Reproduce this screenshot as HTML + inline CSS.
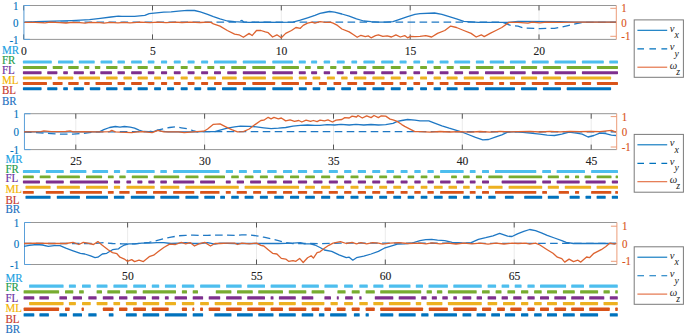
<!DOCTYPE html><html><head><meta charset="utf-8"><style>
html,body{margin:0;padding:0;background:#fff;width:685px;height:335px;overflow:hidden}
svg{display:block}
text{font-family:"Liberation Serif",serif}
</style></head><body>
<svg width="685" height="335" viewBox="0 0 685 335">

<line x1="23.6" y1="5.5" x2="23.6" y2="39.4" stroke="#e6e6e6" stroke-width="0.8"/>
<line x1="152.5" y1="5.5" x2="152.5" y2="39.4" stroke="#e6e6e6" stroke-width="0.8"/>
<line x1="281.3" y1="5.5" x2="281.3" y2="39.4" stroke="#e6e6e6" stroke-width="0.8"/>
<line x1="410.2" y1="5.5" x2="410.2" y2="39.4" stroke="#e6e6e6" stroke-width="0.8"/>
<line x1="539" y1="5.5" x2="539" y2="39.4" stroke="#e6e6e6" stroke-width="0.8"/>
<line x1="23.95" y1="5.5" x2="616.3" y2="5.5" stroke="#8a8a8a" stroke-width="0.9"/>
<line x1="23.95" y1="39.4" x2="616.3" y2="39.4" stroke="#8a8a8a" stroke-width="0.9"/>
<line x1="23.6" y1="5.5" x2="23.6" y2="10.4" stroke="#444" stroke-width="0.9"/>
<line x1="23.6" y1="39.4" x2="23.6" y2="34.4" stroke="#444" stroke-width="0.9"/>
<text transform="translate(23.9,54.5) scale(1,1.08)" font-size="11.6" text-anchor="middle" fill="#222" stroke="#222" stroke-width="0.12">0</text>
<line x1="152.5" y1="5.5" x2="152.5" y2="10.4" stroke="#444" stroke-width="0.9"/>
<line x1="152.5" y1="39.4" x2="152.5" y2="34.4" stroke="#444" stroke-width="0.9"/>
<text transform="translate(152.8,54.5) scale(1,1.08)" font-size="11.6" text-anchor="middle" fill="#222" stroke="#222" stroke-width="0.12">5</text>
<line x1="281.3" y1="5.5" x2="281.3" y2="10.4" stroke="#444" stroke-width="0.9"/>
<line x1="281.3" y1="39.4" x2="281.3" y2="34.4" stroke="#444" stroke-width="0.9"/>
<text transform="translate(281.6,54.5) scale(1,1.08)" font-size="11.6" text-anchor="middle" fill="#222" stroke="#222" stroke-width="0.12">10</text>
<line x1="410.2" y1="5.5" x2="410.2" y2="10.4" stroke="#444" stroke-width="0.9"/>
<line x1="410.2" y1="39.4" x2="410.2" y2="34.4" stroke="#444" stroke-width="0.9"/>
<text transform="translate(410.5,54.5) scale(1,1.08)" font-size="11.6" text-anchor="middle" fill="#222" stroke="#222" stroke-width="0.12">15</text>
<line x1="539" y1="5.5" x2="539" y2="10.4" stroke="#444" stroke-width="0.9"/>
<line x1="539" y1="39.4" x2="539" y2="34.4" stroke="#444" stroke-width="0.9"/>
<text transform="translate(539.3,54.5) scale(1,1.08)" font-size="11.6" text-anchor="middle" fill="#222" stroke="#222" stroke-width="0.12">20</text>
<line x1="23.95" y1="5.5" x2="23.95" y2="39.4" stroke="#5A9FD9" stroke-width="1"/>
<line x1="23.95" y1="5.5" x2="29.95" y2="5.5" stroke="#5A9FD9" stroke-width="1"/>
<text transform="translate(18.6,10) scale(1,1.12)" font-size="11" text-anchor="end" fill="#0072BD" stroke="#0072BD" stroke-width="0.12">1</text>
<line x1="23.95" y1="22.4" x2="29.95" y2="22.4" stroke="#5A9FD9" stroke-width="1"/>
<text transform="translate(18.6,26.9) scale(1,1.12)" font-size="11" text-anchor="end" fill="#0072BD" stroke="#0072BD" stroke-width="0.12">0</text>
<line x1="23.95" y1="39.4" x2="29.95" y2="39.4" stroke="#5A9FD9" stroke-width="1"/>
<text transform="translate(18.6,43.9) scale(1,1.12)" font-size="11" text-anchor="end" fill="#0072BD" stroke="#0072BD" stroke-width="0.12">-1</text>
<line x1="616.3" y1="5.5" x2="616.3" y2="39.4" stroke="#EC9C78" stroke-width="1"/>
<line x1="610.3" y1="8.3" x2="616.3" y2="8.3" stroke="#EC9C78" stroke-width="1"/>
<text transform="translate(621.3,12.4) scale(1,1.12)" font-size="11" fill="#D95319" stroke="#D95319" stroke-width="0.12">1</text>
<line x1="610.3" y1="22.4" x2="616.3" y2="22.4" stroke="#EC9C78" stroke-width="1"/>
<text transform="translate(621.3,26.5) scale(1,1.12)" font-size="11" fill="#D95319" stroke="#D95319" stroke-width="0.12">0</text>
<line x1="610.3" y1="36.3" x2="616.3" y2="36.3" stroke="#EC9C78" stroke-width="1"/>
<text transform="translate(621.3,40.4) scale(1,1.12)" font-size="11" fill="#D95319" stroke="#D95319" stroke-width="0.12">-1</text>
<polyline points="24.5,22.2 236,22.2 240,21 242,20.4 244,22.2 500.3,22.2 505,23.2 510.5,25.4 518,26.1 523.8,28 539.9,28.6 554.5,28.3 561.8,27.1 569.1,25.4 576.4,23.6 583.7,22.4 616,22.4" fill="none" stroke="#1F78C4" stroke-width="1.3" stroke-dasharray="7.6,4.4" stroke-linejoin="round"/>
<polyline points="24.5,22.3 35.8,21.6 53.7,21.1 71.6,20.6 80.6,20.2 89.6,19.7 100.3,18.4 111,17 118.4,16.2 122,16.3 134.6,16.3 144.8,15.4 149.2,13.7 156.5,12.9 163.8,12.2 171.1,11.8 178.4,11.1 187.2,10.3 194.5,10.5 200.3,11.9 207.6,14.4 213.4,16.6 220,18.8 227.3,21 234.6,21.7 241.9,22.1 249.2,22.4 263.8,22.1 278.4,22.4 293,22.1 300.3,20.2 307.6,17.8 314.9,15.4 320,13.4 324.4,12.5 329.5,11.5 334.6,12.2 341.9,14 349.2,16.2 356.5,18.8 363.8,21 371.1,21.7 378.4,22.1 385.7,22.1 393,21.7 400.3,19.2 407.6,16.6 414.9,14.4 420,13.7 434.6,13 441.9,14.4 449.2,16.6 456.5,18.8 463.8,21.3 478.4,22.4 493,22.4 507.6,22.4 518,21.4 560,21.6 575,22.1 616,22.1" fill="none" stroke="#1F78C4" stroke-width="1.3" stroke-linejoin="round"/>
<polyline points="24.5,22.4 35,22.4 45,22.9 50,22.2 60,22.6 66,23 72,22.3 80,22.6 85,23.2 90,22.4 100,22.6 104,23.2 110,22.4 118,22.8 124,22.3 130,22.8 140,22.2 150,22.6 158,22.1 166,22.6 175,22.1 182,22.5 190,22.1 200,22.5 208,22.2 211,22.4 213.4,23.9 220,26.1 227.3,30.5 234.6,34.1 239,34.8 243.4,37.3 249.2,33.4 252.1,35.6 256.5,30.5 260.9,30.5 265.3,31.9 268.2,32.7 272.6,37 276.9,34.8 281.3,37.8 285.7,33.4 291.5,30.5 295.9,27.5 300.3,28.3 303.2,25.4 307.6,23.2 312,22.1 314.9,23.2 320,21.7 325.8,22.4 330.2,22.1 333.1,23.2 337.5,25.4 341.9,29 349.2,31.9 353.6,34.8 357.2,37.3 360.9,35.3 365.3,36.7 368.2,35.9 371.1,37.8 375.5,35.6 378.4,34.8 382.8,36.3 387.2,35.9 391.5,37 395.9,34.8 400.3,37 404.7,35.6 407.6,37.8 410.5,36.3 414.9,36.7 420,36.3 425.8,35.6 431.7,37 437.5,33.4 444.8,30.5 450.7,26.1 456.5,27.5 463.8,30.5 471.1,33.4 476.2,37 481.3,34.8 484.2,36.6 490.1,33.4 495.9,30.5 501.8,27.5 509,22.4 518,22.4 528,23.1 532,22.2 540,22.8 546,22.1 560,22.4 580,22.1 616,22.2" fill="none" stroke="#DD6330" stroke-width="1.3" stroke-linejoin="round"/>
<text transform="translate(2,53.6) scale(1,1.08)" font-size="11" fill="#1BA1E2" stroke="#1BA1E2" stroke-width="0.15">MR</text>
<text transform="translate(2,64) scale(1,1.08)" font-size="11" fill="#1E9C4C" stroke="#1E9C4C" stroke-width="0.15">FR</text>
<text transform="translate(2,74.3) scale(1,1.08)" font-size="11" fill="#6B2FA0" stroke="#6B2FA0" stroke-width="0.15">FL</text>
<text transform="translate(2,84.4) scale(1,1.08)" font-size="11" fill="#F4B400" stroke="#F4B400" stroke-width="0.15">ML</text>
<text transform="translate(2,94.3) scale(1,1.08)" font-size="11" fill="#C83A2E" stroke="#C83A2E" stroke-width="0.15">BL</text>
<text transform="translate(2,104.6) scale(1,1.08)" font-size="11" fill="#1E70C0" stroke="#1E70C0" stroke-width="0.15">BR</text>
<rect x="22.9" y="60.6" width="28.9" height="3.0" rx="0.6" fill="#4DBEEE"/>
<rect x="58" y="60.6" width="15.3" height="3.0" rx="0.6" fill="#4DBEEE"/>
<rect x="78.8" y="60.6" width="15.9" height="3.0" rx="0.6" fill="#4DBEEE"/>
<rect x="100.6" y="60.6" width="11.7" height="3.0" rx="0.6" fill="#4DBEEE"/>
<rect x="117.5" y="60.6" width="7.4" height="3.0" rx="0.6" fill="#4DBEEE"/>
<rect x="131.1" y="60.6" width="10.7" height="3.0" rx="0.6" fill="#4DBEEE"/>
<rect x="147.8" y="60.6" width="6.6" height="3.0" rx="0.6" fill="#4DBEEE"/>
<rect x="161" y="60.6" width="6.1" height="3.0" rx="0.6" fill="#4DBEEE"/>
<rect x="173.8" y="60.6" width="6.9" height="3.0" rx="0.6" fill="#4DBEEE"/>
<rect x="187.6" y="60.6" width="7" height="3.0" rx="0.6" fill="#4DBEEE"/>
<rect x="201.1" y="60.6" width="7" height="3.0" rx="0.6" fill="#4DBEEE"/>
<rect x="214" y="60.6" width="22.7" height="3.0" rx="0.6" fill="#4DBEEE"/>
<rect x="242.8" y="60.6" width="23.1" height="3.0" rx="0.6" fill="#4DBEEE"/>
<rect x="272.3" y="60.6" width="20.6" height="3.0" rx="0.6" fill="#4DBEEE"/>
<rect x="298.8" y="60.6" width="7" height="3.0" rx="0.6" fill="#4DBEEE"/>
<rect x="311.1" y="60.6" width="6" height="3.0" rx="0.6" fill="#4DBEEE"/>
<rect x="323.7" y="60.6" width="6.4" height="3.0" rx="0.6" fill="#4DBEEE"/>
<rect x="336.8" y="60.6" width="7.9" height="3.0" rx="0.6" fill="#4DBEEE"/>
<rect x="351.4" y="60.6" width="5.7" height="3.0" rx="0.6" fill="#4DBEEE"/>
<rect x="363.4" y="60.6" width="11.4" height="3.0" rx="0.6" fill="#4DBEEE"/>
<rect x="381.2" y="60.6" width="12.1" height="3.0" rx="0.6" fill="#4DBEEE"/>
<rect x="399.6" y="60.6" width="7" height="3.0" rx="0.6" fill="#4DBEEE"/>
<rect x="413.4" y="60.6" width="6.7" height="3.0" rx="0.6" fill="#4DBEEE"/>
<rect x="427" y="60.6" width="6.6" height="3.0" rx="0.6" fill="#4DBEEE"/>
<rect x="439.7" y="60.6" width="8.8" height="3.0" rx="0.6" fill="#4DBEEE"/>
<rect x="454.3" y="60.6" width="15.8" height="3.0" rx="0.6" fill="#4DBEEE"/>
<rect x="475.9" y="60.6" width="8" height="3.0" rx="0.6" fill="#4DBEEE"/>
<rect x="489.8" y="60.6" width="14.3" height="3.0" rx="0.6" fill="#4DBEEE"/>
<rect x="509.9" y="60.6" width="15.8" height="3.0" rx="0.6" fill="#4DBEEE"/>
<rect x="531.8" y="60.6" width="16.9" height="3.0" rx="0.6" fill="#4DBEEE"/>
<rect x="554.6" y="60.6" width="21.4" height="3.0" rx="0.6" fill="#4DBEEE"/>
<rect x="581.9" y="60.6" width="21.9" height="3.0" rx="0.6" fill="#4DBEEE"/>
<rect x="609.3" y="60.6" width="8.7" height="3.0" rx="0.6" fill="#4DBEEE"/>
<rect x="22.9" y="65.9" width="24.1" height="3.0" rx="0.6" fill="#77AC30"/>
<rect x="52.7" y="65.9" width="9.9" height="3.0" rx="0.6" fill="#77AC30"/>
<rect x="68.2" y="65.9" width="10.5" height="3.0" rx="0.6" fill="#77AC30"/>
<rect x="84.2" y="65.9" width="5.1" height="3.0" rx="0.6" fill="#77AC30"/>
<rect x="94.9" y="65.9" width="5.4" height="3.0" rx="0.6" fill="#77AC30"/>
<rect x="106.1" y="65.9" width="11.4" height="3.0" rx="0.6" fill="#77AC30"/>
<rect x="123.5" y="65.9" width="8.3" height="3.0" rx="0.6" fill="#77AC30"/>
<rect x="137.6" y="65.9" width="10.2" height="3.0" rx="0.6" fill="#77AC30"/>
<rect x="154.1" y="65.9" width="6.9" height="3.0" rx="0.6" fill="#77AC30"/>
<rect x="167.1" y="65.9" width="7" height="3.0" rx="0.6" fill="#77AC30"/>
<rect x="180.7" y="65.9" width="7" height="3.0" rx="0.6" fill="#77AC30"/>
<rect x="194.3" y="65.9" width="6.9" height="3.0" rx="0.6" fill="#77AC30"/>
<rect x="207.3" y="65.9" width="7" height="3.0" rx="0.6" fill="#77AC30"/>
<rect x="219.9" y="65.9" width="5" height="3.0" rx="0.6" fill="#77AC30"/>
<rect x="231.2" y="65.9" width="14.9" height="3.0" rx="0.6" fill="#77AC30"/>
<rect x="252.3" y="65.9" width="22.9" height="3.0" rx="0.6" fill="#77AC30"/>
<rect x="281.5" y="65.9" width="17.5" height="3.0" rx="0.6" fill="#77AC30"/>
<rect x="305" y="65.9" width="5.8" height="3.0" rx="0.6" fill="#77AC30"/>
<rect x="317.1" y="65.9" width="6.6" height="3.0" rx="0.6" fill="#77AC30"/>
<rect x="330.1" y="65.9" width="6.3" height="3.0" rx="0.6" fill="#77AC30"/>
<rect x="342.7" y="65.9" width="8.3" height="3.0" rx="0.6" fill="#77AC30"/>
<rect x="357.1" y="65.9" width="9.2" height="3.0" rx="0.6" fill="#77AC30"/>
<rect x="372.4" y="65.9" width="12.1" height="3.0" rx="0.6" fill="#77AC30"/>
<rect x="390.8" y="65.9" width="9.9" height="3.0" rx="0.6" fill="#77AC30"/>
<rect x="407" y="65.9" width="6.4" height="3.0" rx="0.6" fill="#77AC30"/>
<rect x="420.1" y="65.9" width="6.9" height="3.0" rx="0.6" fill="#77AC30"/>
<rect x="433.6" y="65.9" width="7.3" height="3.0" rx="0.6" fill="#77AC30"/>
<rect x="446.7" y="65.9" width="7" height="3.0" rx="0.6" fill="#77AC30"/>
<rect x="459.9" y="65.9" width="10.2" height="3.0" rx="0.6" fill="#77AC30"/>
<rect x="475.9" y="65.9" width="17.5" height="3.0" rx="0.6" fill="#77AC30"/>
<rect x="499.1" y="65.9" width="15.9" height="3.0" rx="0.6" fill="#77AC30"/>
<rect x="521" y="65.9" width="16.1" height="3.0" rx="0.6" fill="#77AC30"/>
<rect x="542.9" y="65.9" width="18.1" height="3.0" rx="0.6" fill="#77AC30"/>
<rect x="566.7" y="65.9" width="24.4" height="3.0" rx="0.6" fill="#77AC30"/>
<rect x="596.9" y="65.9" width="21.1" height="3.0" rx="0.6" fill="#77AC30"/>
<rect x="22.9" y="71.2" width="18.7" height="3.0" rx="0.6" fill="#7E2F8E"/>
<rect x="47.2" y="71.2" width="10.2" height="3.0" rx="0.6" fill="#7E2F8E"/>
<rect x="63.2" y="71.2" width="4.7" height="3.0" rx="0.6" fill="#7E2F8E"/>
<rect x="73.7" y="71.2" width="10.2" height="3.0" rx="0.6" fill="#7E2F8E"/>
<rect x="89.8" y="71.2" width="5.3" height="3.0" rx="0.6" fill="#7E2F8E"/>
<rect x="100.3" y="71.2" width="11.7" height="3.0" rx="0.6" fill="#7E2F8E"/>
<rect x="117.5" y="71.2" width="7.4" height="3.0" rx="0.6" fill="#7E2F8E"/>
<rect x="131.1" y="71.2" width="10.7" height="3.0" rx="0.6" fill="#7E2F8E"/>
<rect x="147.8" y="71.2" width="6.6" height="3.0" rx="0.6" fill="#7E2F8E"/>
<rect x="161" y="71.2" width="6.1" height="3.0" rx="0.6" fill="#7E2F8E"/>
<rect x="173.8" y="71.2" width="6.9" height="3.0" rx="0.6" fill="#7E2F8E"/>
<rect x="187.6" y="71.2" width="7" height="3.0" rx="0.6" fill="#7E2F8E"/>
<rect x="201.1" y="71.2" width="7" height="3.0" rx="0.6" fill="#7E2F8E"/>
<rect x="214" y="71.2" width="7" height="3.0" rx="0.6" fill="#7E2F8E"/>
<rect x="227.2" y="71.2" width="9.5" height="3.0" rx="0.6" fill="#7E2F8E"/>
<rect x="242.8" y="71.2" width="23.1" height="3.0" rx="0.6" fill="#7E2F8E"/>
<rect x="272.3" y="71.2" width="20.6" height="3.0" rx="0.6" fill="#7E2F8E"/>
<rect x="298.8" y="71.2" width="7" height="3.0" rx="0.6" fill="#7E2F8E"/>
<rect x="311.1" y="71.2" width="6" height="3.0" rx="0.6" fill="#7E2F8E"/>
<rect x="323.7" y="71.2" width="6.4" height="3.0" rx="0.6" fill="#7E2F8E"/>
<rect x="336.8" y="71.2" width="6.9" height="3.0" rx="0.6" fill="#7E2F8E"/>
<rect x="350" y="71.2" width="7.2" height="3.0" rx="0.6" fill="#7E2F8E"/>
<rect x="363.4" y="71.2" width="11.4" height="3.0" rx="0.6" fill="#7E2F8E"/>
<rect x="381.2" y="71.2" width="12.1" height="3.0" rx="0.6" fill="#7E2F8E"/>
<rect x="399.6" y="71.2" width="7" height="3.0" rx="0.6" fill="#7E2F8E"/>
<rect x="413.4" y="71.2" width="6.7" height="3.0" rx="0.6" fill="#7E2F8E"/>
<rect x="427" y="71.2" width="6.6" height="3.0" rx="0.6" fill="#7E2F8E"/>
<rect x="439.7" y="71.2" width="8.8" height="3.0" rx="0.6" fill="#7E2F8E"/>
<rect x="454.3" y="71.2" width="8.8" height="3.0" rx="0.6" fill="#7E2F8E"/>
<rect x="468.9" y="71.2" width="9.9" height="3.0" rx="0.6" fill="#7E2F8E"/>
<rect x="485" y="71.2" width="19.1" height="3.0" rx="0.6" fill="#7E2F8E"/>
<rect x="509.9" y="71.2" width="15.8" height="3.0" rx="0.6" fill="#7E2F8E"/>
<rect x="531.8" y="71.2" width="16.9" height="3.0" rx="0.6" fill="#7E2F8E"/>
<rect x="554.6" y="71.2" width="21.4" height="3.0" rx="0.6" fill="#7E2F8E"/>
<rect x="581.9" y="71.2" width="36.1" height="3.0" rx="0.6" fill="#7E2F8E"/>
<rect x="22.9" y="76.6" width="28.9" height="3.0" rx="0.6" fill="#EDB120"/>
<rect x="57.7" y="76.6" width="15.6" height="3.0" rx="0.6" fill="#EDB120"/>
<rect x="78.8" y="76.6" width="21.2" height="3.0" rx="0.6" fill="#EDB120"/>
<rect x="106.1" y="76.6" width="11.5" height="3.0" rx="0.6" fill="#EDB120"/>
<rect x="123.5" y="76.6" width="8.3" height="3.0" rx="0.6" fill="#EDB120"/>
<rect x="137.6" y="76.6" width="10.2" height="3.0" rx="0.6" fill="#EDB120"/>
<rect x="154.1" y="76.6" width="6.9" height="3.0" rx="0.6" fill="#EDB120"/>
<rect x="167.1" y="76.6" width="7" height="3.0" rx="0.6" fill="#EDB120"/>
<rect x="180.7" y="76.6" width="7" height="3.0" rx="0.6" fill="#EDB120"/>
<rect x="194.3" y="76.6" width="6.9" height="3.0" rx="0.6" fill="#EDB120"/>
<rect x="207.3" y="76.6" width="8.6" height="3.0" rx="0.6" fill="#EDB120"/>
<rect x="222" y="76.6" width="14.7" height="3.0" rx="0.6" fill="#EDB120"/>
<rect x="242.8" y="76.6" width="23.1" height="3.0" rx="0.6" fill="#EDB120"/>
<rect x="272.3" y="76.6" width="20.6" height="3.0" rx="0.6" fill="#EDB120"/>
<rect x="298.8" y="76.6" width="8" height="3.0" rx="0.6" fill="#EDB120"/>
<rect x="312.6" y="76.6" width="7.7" height="3.0" rx="0.6" fill="#EDB120"/>
<rect x="326.9" y="76.6" width="8" height="3.0" rx="0.6" fill="#EDB120"/>
<rect x="341.2" y="76.6" width="6.4" height="3.0" rx="0.6" fill="#EDB120"/>
<rect x="353.9" y="76.6" width="12.4" height="3.0" rx="0.6" fill="#EDB120"/>
<rect x="372.4" y="76.6" width="12.1" height="3.0" rx="0.6" fill="#EDB120"/>
<rect x="390.8" y="76.6" width="9.9" height="3.0" rx="0.6" fill="#EDB120"/>
<rect x="407" y="76.6" width="6.4" height="3.0" rx="0.6" fill="#EDB120"/>
<rect x="420.1" y="76.6" width="6.9" height="3.0" rx="0.6" fill="#EDB120"/>
<rect x="433.6" y="76.6" width="7.3" height="3.0" rx="0.6" fill="#EDB120"/>
<rect x="446.7" y="76.6" width="10.9" height="3.0" rx="0.6" fill="#EDB120"/>
<rect x="463.8" y="76.6" width="20.1" height="3.0" rx="0.6" fill="#EDB120"/>
<rect x="489.8" y="76.6" width="25.2" height="3.0" rx="0.6" fill="#EDB120"/>
<rect x="521" y="76.6" width="16.1" height="3.0" rx="0.6" fill="#EDB120"/>
<rect x="542.9" y="76.6" width="18.1" height="3.0" rx="0.6" fill="#EDB120"/>
<rect x="566.7" y="76.6" width="44.4" height="3.0" rx="0.6" fill="#EDB120"/>
<rect x="22.9" y="81.9" width="24.1" height="3.0" rx="0.6" fill="#D95319"/>
<rect x="52.7" y="81.9" width="9.9" height="3.0" rx="0.6" fill="#D95319"/>
<rect x="68.2" y="81.9" width="10.5" height="3.0" rx="0.6" fill="#D95319"/>
<rect x="84.2" y="81.9" width="5.5" height="3.0" rx="0.6" fill="#D95319"/>
<rect x="95.5" y="81.9" width="16.5" height="3.0" rx="0.6" fill="#D95319"/>
<rect x="117.5" y="81.9" width="7.4" height="3.0" rx="0.6" fill="#D95319"/>
<rect x="131.1" y="81.9" width="10.7" height="3.0" rx="0.6" fill="#D95319"/>
<rect x="147.8" y="81.9" width="6.6" height="3.0" rx="0.6" fill="#D95319"/>
<rect x="161" y="81.9" width="6.1" height="3.0" rx="0.6" fill="#D95319"/>
<rect x="173.8" y="81.9" width="6.9" height="3.0" rx="0.6" fill="#D95319"/>
<rect x="187.6" y="81.9" width="7" height="3.0" rx="0.6" fill="#D95319"/>
<rect x="201.1" y="81.9" width="7" height="3.0" rx="0.6" fill="#D95319"/>
<rect x="214" y="81.9" width="7.7" height="3.0" rx="0.6" fill="#D95319"/>
<rect x="227.5" y="81.9" width="18.5" height="3.0" rx="0.6" fill="#D95319"/>
<rect x="252.3" y="81.9" width="22.9" height="3.0" rx="0.6" fill="#D95319"/>
<rect x="281.5" y="81.9" width="17.5" height="3.0" rx="0.6" fill="#D95319"/>
<rect x="305" y="81.9" width="7.3" height="3.0" rx="0.6" fill="#D95319"/>
<rect x="318.9" y="81.9" width="8" height="3.0" rx="0.6" fill="#D95319"/>
<rect x="333.5" y="81.9" width="7.7" height="3.0" rx="0.6" fill="#D95319"/>
<rect x="347.3" y="81.9" width="9.8" height="3.0" rx="0.6" fill="#D95319"/>
<rect x="363.4" y="81.9" width="11.4" height="3.0" rx="0.6" fill="#D95319"/>
<rect x="381.2" y="81.9" width="12.1" height="3.0" rx="0.6" fill="#D95319"/>
<rect x="399.6" y="81.9" width="7" height="3.0" rx="0.6" fill="#D95319"/>
<rect x="413.4" y="81.9" width="6.7" height="3.0" rx="0.6" fill="#D95319"/>
<rect x="427" y="81.9" width="6.6" height="3.0" rx="0.6" fill="#D95319"/>
<rect x="439.7" y="81.9" width="8.8" height="3.0" rx="0.6" fill="#D95319"/>
<rect x="454.3" y="81.9" width="15.8" height="3.0" rx="0.6" fill="#D95319"/>
<rect x="475.9" y="81.9" width="17.5" height="3.0" rx="0.6" fill="#D95319"/>
<rect x="499.1" y="81.9" width="5" height="3.0" rx="0.6" fill="#D95319"/>
<rect x="509.9" y="81.9" width="15.8" height="3.0" rx="0.6" fill="#D95319"/>
<rect x="531.8" y="81.9" width="16.9" height="3.0" rx="0.6" fill="#D95319"/>
<rect x="554.6" y="81.9" width="21.4" height="3.0" rx="0.6" fill="#D95319"/>
<rect x="581.9" y="81.9" width="9.2" height="3.0" rx="0.6" fill="#D95319"/>
<rect x="596.9" y="81.9" width="21.1" height="3.0" rx="0.6" fill="#D95319"/>
<rect x="22.9" y="87.2" width="18.7" height="3.0" rx="0.6" fill="#0072BD"/>
<rect x="47.2" y="87.2" width="10.2" height="3.0" rx="0.6" fill="#0072BD"/>
<rect x="63.2" y="87.2" width="4.7" height="3.0" rx="0.6" fill="#0072BD"/>
<rect x="73.7" y="87.2" width="10.2" height="3.0" rx="0.6" fill="#0072BD"/>
<rect x="89.8" y="87.2" width="10.5" height="3.0" rx="0.6" fill="#0072BD"/>
<rect x="106.1" y="87.2" width="11.4" height="3.0" rx="0.6" fill="#0072BD"/>
<rect x="123.5" y="87.2" width="8.3" height="3.0" rx="0.6" fill="#0072BD"/>
<rect x="137.6" y="87.2" width="10.2" height="3.0" rx="0.6" fill="#0072BD"/>
<rect x="154.1" y="87.2" width="6.9" height="3.0" rx="0.6" fill="#0072BD"/>
<rect x="167.1" y="87.2" width="7" height="3.0" rx="0.6" fill="#0072BD"/>
<rect x="180.7" y="87.2" width="7" height="3.0" rx="0.6" fill="#0072BD"/>
<rect x="194.3" y="87.2" width="6.9" height="3.0" rx="0.6" fill="#0072BD"/>
<rect x="207.3" y="87.2" width="8.6" height="3.0" rx="0.6" fill="#0072BD"/>
<rect x="222" y="87.2" width="14.7" height="3.0" rx="0.6" fill="#0072BD"/>
<rect x="242.8" y="87.2" width="23.1" height="3.0" rx="0.6" fill="#0072BD"/>
<rect x="272.3" y="87.2" width="20.6" height="3.0" rx="0.6" fill="#0072BD"/>
<rect x="298.8" y="87.2" width="8" height="3.0" rx="0.6" fill="#0072BD"/>
<rect x="312.6" y="87.2" width="7.7" height="3.0" rx="0.6" fill="#0072BD"/>
<rect x="326.9" y="87.2" width="8" height="3.0" rx="0.6" fill="#0072BD"/>
<rect x="341.2" y="87.2" width="9.8" height="3.0" rx="0.6" fill="#0072BD"/>
<rect x="357.1" y="87.2" width="9.2" height="3.0" rx="0.6" fill="#0072BD"/>
<rect x="372.4" y="87.2" width="12.1" height="3.0" rx="0.6" fill="#0072BD"/>
<rect x="390.8" y="87.2" width="9.9" height="3.0" rx="0.6" fill="#0072BD"/>
<rect x="407" y="87.2" width="6.4" height="3.0" rx="0.6" fill="#0072BD"/>
<rect x="420.1" y="87.2" width="6.9" height="3.0" rx="0.6" fill="#0072BD"/>
<rect x="433.6" y="87.2" width="7.3" height="3.0" rx="0.6" fill="#0072BD"/>
<rect x="446.7" y="87.2" width="10.9" height="3.0" rx="0.6" fill="#0072BD"/>
<rect x="463.8" y="87.2" width="15" height="3.0" rx="0.6" fill="#0072BD"/>
<rect x="485" y="87.2" width="30" height="3.0" rx="0.6" fill="#0072BD"/>
<rect x="521" y="87.2" width="16.1" height="3.0" rx="0.6" fill="#0072BD"/>
<rect x="542.9" y="87.2" width="18.1" height="3.0" rx="0.6" fill="#0072BD"/>
<rect x="566.7" y="87.2" width="44.4" height="3.0" rx="0.6" fill="#0072BD"/>
<rect x="634.2" y="19.9" width="49.2" height="57.4" fill="#fff" stroke="#7a7a7a" stroke-width="1"/>
<line x1="637.4000000000001" y1="30.3" x2="667.2" y2="30.3" stroke="#0072BD" stroke-width="1.1"/>
<line x1="637.4000000000001" y1="48.9" x2="667.2" y2="48.9" stroke="#0072BD" stroke-width="1.1" stroke-dasharray="6.6,5.4"/>
<line x1="637.4000000000001" y1="67.2" x2="667.2" y2="67.2" stroke="#E2683A" stroke-width="1.1"/>
<text x="669.7" y="31.8" font-size="10.6" font-style="italic" fill="#222">v</text>
<text x="674.5" y="38" font-size="9.8" font-style="italic" fill="#222">x</text>
<text x="669.7" y="50.4" font-size="10.6" font-style="italic" fill="#222">v</text>
<text x="674.5" y="56.6" font-size="9.8" font-style="italic" fill="#222">y</text>
<text x="669.7" y="68.7" font-size="10.6" font-style="italic" fill="#222">&#969;</text>
<text x="676.2" y="74.9" font-size="9.8" font-style="italic" fill="#222">z</text>
<line x1="75.8" y1="113.7" x2="75.8" y2="149.6" stroke="#e6e6e6" stroke-width="0.8"/>
<line x1="204.6" y1="113.7" x2="204.6" y2="149.6" stroke="#e6e6e6" stroke-width="0.8"/>
<line x1="333.5" y1="113.7" x2="333.5" y2="149.6" stroke="#e6e6e6" stroke-width="0.8"/>
<line x1="462.3" y1="113.7" x2="462.3" y2="149.6" stroke="#e6e6e6" stroke-width="0.8"/>
<line x1="591.2" y1="113.7" x2="591.2" y2="149.6" stroke="#e6e6e6" stroke-width="0.8"/>
<line x1="24.45" y1="113.7" x2="616.7" y2="113.7" stroke="#8a8a8a" stroke-width="0.9"/>
<line x1="24.45" y1="149.6" x2="616.7" y2="149.6" stroke="#8a8a8a" stroke-width="0.9"/>
<line x1="75.8" y1="113.7" x2="75.8" y2="118.7" stroke="#444" stroke-width="0.9"/>
<line x1="75.8" y1="149.6" x2="75.8" y2="144.6" stroke="#444" stroke-width="0.9"/>
<text transform="translate(76.1,164.5) scale(1,1.08)" font-size="11.6" text-anchor="middle" fill="#222" stroke="#222" stroke-width="0.12">25</text>
<line x1="204.6" y1="113.7" x2="204.6" y2="118.7" stroke="#444" stroke-width="0.9"/>
<line x1="204.6" y1="149.6" x2="204.6" y2="144.6" stroke="#444" stroke-width="0.9"/>
<text transform="translate(204.9,164.5) scale(1,1.08)" font-size="11.6" text-anchor="middle" fill="#222" stroke="#222" stroke-width="0.12">30</text>
<line x1="333.5" y1="113.7" x2="333.5" y2="118.7" stroke="#444" stroke-width="0.9"/>
<line x1="333.5" y1="149.6" x2="333.5" y2="144.6" stroke="#444" stroke-width="0.9"/>
<text transform="translate(333.8,164.5) scale(1,1.08)" font-size="11.6" text-anchor="middle" fill="#222" stroke="#222" stroke-width="0.12">35</text>
<line x1="462.3" y1="113.7" x2="462.3" y2="118.7" stroke="#444" stroke-width="0.9"/>
<line x1="462.3" y1="149.6" x2="462.3" y2="144.6" stroke="#444" stroke-width="0.9"/>
<text transform="translate(462.6,164.5) scale(1,1.08)" font-size="11.6" text-anchor="middle" fill="#222" stroke="#222" stroke-width="0.12">40</text>
<line x1="591.2" y1="113.7" x2="591.2" y2="118.7" stroke="#444" stroke-width="0.9"/>
<line x1="591.2" y1="149.6" x2="591.2" y2="144.6" stroke="#444" stroke-width="0.9"/>
<text transform="translate(591.5,164.5) scale(1,1.08)" font-size="11.6" text-anchor="middle" fill="#222" stroke="#222" stroke-width="0.12">45</text>
<line x1="24.45" y1="113.7" x2="24.45" y2="149.6" stroke="#5A9FD9" stroke-width="1"/>
<line x1="24.45" y1="113.7" x2="30.45" y2="113.7" stroke="#5A9FD9" stroke-width="1"/>
<text transform="translate(19.1,117.8) scale(1,1.12)" font-size="11" text-anchor="end" fill="#0072BD" stroke="#0072BD" stroke-width="0.12">1</text>
<line x1="24.45" y1="131.7" x2="30.45" y2="131.7" stroke="#5A9FD9" stroke-width="1"/>
<text transform="translate(19.1,135.8) scale(1,1.12)" font-size="11" text-anchor="end" fill="#0072BD" stroke="#0072BD" stroke-width="0.12">0</text>
<line x1="24.45" y1="149.6" x2="30.45" y2="149.6" stroke="#5A9FD9" stroke-width="1"/>
<text transform="translate(19.1,153.7) scale(1,1.12)" font-size="11" text-anchor="end" fill="#0072BD" stroke="#0072BD" stroke-width="0.12">-1</text>
<line x1="616.7" y1="113.7" x2="616.7" y2="149.6" stroke="#EC9C78" stroke-width="1"/>
<line x1="610.7" y1="116.6" x2="616.7" y2="116.6" stroke="#EC9C78" stroke-width="1"/>
<text transform="translate(621.7,120.7) scale(1,1.12)" font-size="11" fill="#D95319" stroke="#D95319" stroke-width="0.12">1</text>
<line x1="610.7" y1="131.7" x2="616.7" y2="131.7" stroke="#EC9C78" stroke-width="1"/>
<text transform="translate(621.7,135.8) scale(1,1.12)" font-size="11" fill="#D95319" stroke="#D95319" stroke-width="0.12">0</text>
<line x1="610.7" y1="147" x2="616.7" y2="147" stroke="#EC9C78" stroke-width="1"/>
<text transform="translate(621.7,151.1) scale(1,1.12)" font-size="11" fill="#D95319" stroke="#D95319" stroke-width="0.12">-1</text>
<polyline points="24,131.9 36.6,132.6 43.9,133.1 51.2,133.6 60,134.1 73.1,134.1 83.3,133.4 89.2,132.6 95,131.9 149.2,131.6 156.5,130.4 163.8,128.7 169.6,127.5 175.5,126.8 181.3,127.8 187.2,128.7 193,130.7 197.4,131.9 204.7,131.6 616,131.8" fill="none" stroke="#1F78C4" stroke-width="1.3" stroke-dasharray="7.6,4.4" stroke-linejoin="round"/>
<polyline points="24,131.9 99.4,131.9 103.8,129.7 109.6,127.5 115.4,126.5 120,127.2 124.4,126.5 130.2,127.2 134.6,128.2 139,130.1 143.4,131.5 149.2,131.6 153.6,131.6 158,130.1 160.9,131.2 168.2,131.9 178.4,131.9 193,131.9 204.7,131.6 214.9,131.6 220,130.1 227.3,128.2 234.6,126.8 240.4,126.1 249.2,126.4 256.5,126.8 263.8,127.8 271.1,128.7 278.4,128.2 285.7,127.5 293,126.1 300.3,125.3 307.6,125 314.9,125.3 320,125.3 327,124.6 334.6,125 341,124.4 349.2,125 356,124.4 363.8,125 371,124.5 378.4,125 385.7,124.6 393,123.4 397.4,121.4 401.8,120.5 407.6,119.5 414.9,120.2 420,120.9 428.8,120.9 434.6,123.1 441.9,125.8 449.2,128.2 456.5,130.4 462.3,132.2 468.2,134.5 475.5,137.4 482.8,139.9 488.6,139.5 494.5,137.4 501.8,134.8 507.6,132.2 513.4,131.9 518,131.9 525.3,132.6 532.6,133.4 539.9,134.1 547.2,135.1 554.5,135.5 561.8,134.1 569.1,132.2 576.4,133.1 582.2,134.1 588.1,137 593.9,135.5 599.8,133.1 605.6,133.6 611.4,135.1 616,135.5" fill="none" stroke="#1F78C4" stroke-width="1.3" stroke-linejoin="round"/>
<polyline points="24,131.9 41,131.6 43.9,130.9 51.2,131.6 65.8,131.5 70.2,130.9 73.1,131.9 83.3,131.6 95,131.9 102.3,131.9 109.6,131.6 111.8,130.4 115.4,131.9 120,132.2 131.7,132.6 137.5,131.9 143.4,131.6 152.1,132.6 158,130.4 163.8,131.9 178.4,131.9 184.2,132.6 193,131.9 203.9,131.2 207.6,129 213.4,124.3 220,123.9 225.8,126.8 231.7,129.7 237.5,131.9 243.4,131.6 249.2,129 255,124.6 260.9,120.5 263.8,120.2 268.2,117.3 271.1,118.8 274,117.3 278.4,118.8 281.3,118 285.7,120.9 290.1,119.9 294.5,121.4 298.8,120.5 301.8,122 306.1,120.2 310.5,121.4 313.4,120.5 317.1,121.7 320,120.2 324.4,120.9 328,119.9 332.4,122 336.1,120.2 341.9,119.5 344.8,117.6 349.2,118 352.1,116.1 356.5,117 358,115.5 362.3,118 366.7,115.8 371.1,117.6 374,115.5 378.4,117.6 381.3,115.8 385.7,116.1 390.1,119.1 393,119.9 395.9,120.9 398.8,122.4 401.8,124.6 404.7,126.4 410.5,129.3 414.9,131.6 420,131.6 430,132.1 440,131.5 450,132 460,131.6 470,132.1 480,131.5 490,132.1 500,131.4 510,131.9 518,131.6 530,131.4 540,132 550,131.4 560,131.9 570,131.3 580,131.7 590,131.3 600,131.6 611.4,130.4 616,132.2" fill="none" stroke="#DD6330" stroke-width="1.3" stroke-linejoin="round"/>
<text transform="translate(5.4,162.8) scale(1,1.08)" font-size="11" fill="#1BA1E2" stroke="#1BA1E2" stroke-width="0.15">MR</text>
<text transform="translate(5.4,172.6) scale(1,1.08)" font-size="11" fill="#1E9C4C" stroke="#1E9C4C" stroke-width="0.15">FR</text>
<text transform="translate(5.4,182.2) scale(1,1.08)" font-size="11" fill="#6B2FA0" stroke="#6B2FA0" stroke-width="0.15">FL</text>
<text transform="translate(5.4,192.5) scale(1,1.08)" font-size="11" fill="#F4B400" stroke="#F4B400" stroke-width="0.15">ML</text>
<text transform="translate(5.4,203.8) scale(1,1.08)" font-size="11" fill="#C83A2E" stroke="#C83A2E" stroke-width="0.15">BL</text>
<text transform="translate(5.4,213.4) scale(1,1.08)" font-size="11" fill="#1E70C0" stroke="#1E70C0" stroke-width="0.15">BR</text>
<rect x="22.9" y="170.1" width="17.1" height="2.95" rx="0.6" fill="#4DBEEE"/>
<rect x="45.8" y="170.1" width="18" height="2.95" rx="0.6" fill="#4DBEEE"/>
<rect x="69.9" y="170.1" width="16.5" height="2.95" rx="0.6" fill="#4DBEEE"/>
<rect x="92.3" y="170.1" width="15.8" height="2.95" rx="0.6" fill="#4DBEEE"/>
<rect x="113.9" y="170.1" width="6.2" height="2.95" rx="0.6" fill="#4DBEEE"/>
<rect x="126.4" y="170.1" width="28.3" height="2.95" rx="0.6" fill="#4DBEEE"/>
<rect x="160.3" y="170.1" width="6.6" height="2.95" rx="0.6" fill="#4DBEEE"/>
<rect x="173.1" y="170.1" width="46.4" height="2.95" rx="0.6" fill="#4DBEEE"/>
<rect x="225.8" y="170.1" width="7.2" height="2.95" rx="0.6" fill="#4DBEEE"/>
<rect x="238.9" y="170.1" width="8" height="2.95" rx="0.6" fill="#4DBEEE"/>
<rect x="253.1" y="170.1" width="8" height="2.95" rx="0.6" fill="#4DBEEE"/>
<rect x="267.2" y="170.1" width="9.5" height="2.95" rx="0.6" fill="#4DBEEE"/>
<rect x="283" y="170.1" width="9.1" height="2.95" rx="0.6" fill="#4DBEEE"/>
<rect x="297.9" y="170.1" width="9.2" height="2.95" rx="0.6" fill="#4DBEEE"/>
<rect x="313.3" y="170.1" width="9.2" height="2.95" rx="0.6" fill="#4DBEEE"/>
<rect x="328.8" y="170.1" width="9.1" height="2.95" rx="0.6" fill="#4DBEEE"/>
<rect x="344.1" y="170.1" width="7.3" height="2.95" rx="0.6" fill="#4DBEEE"/>
<rect x="357.8" y="170.1" width="8.2" height="2.95" rx="0.6" fill="#4DBEEE"/>
<rect x="372.2" y="170.1" width="8" height="2.95" rx="0.6" fill="#4DBEEE"/>
<rect x="386.5" y="170.1" width="7.6" height="2.95" rx="0.6" fill="#4DBEEE"/>
<rect x="400.6" y="170.1" width="7" height="2.95" rx="0.6" fill="#4DBEEE"/>
<rect x="414.3" y="170.1" width="6.4" height="2.95" rx="0.6" fill="#4DBEEE"/>
<rect x="427.4" y="170.1" width="6.4" height="2.95" rx="0.6" fill="#4DBEEE"/>
<rect x="440.1" y="170.1" width="23.6" height="2.95" rx="0.6" fill="#4DBEEE"/>
<rect x="469.8" y="170.1" width="5.8" height="2.95" rx="0.6" fill="#4DBEEE"/>
<rect x="482" y="170.1" width="7" height="2.95" rx="0.6" fill="#4DBEEE"/>
<rect x="495" y="170.1" width="41.3" height="2.95" rx="0.6" fill="#4DBEEE"/>
<rect x="542.2" y="170.1" width="8.8" height="2.95" rx="0.6" fill="#4DBEEE"/>
<rect x="556.6" y="170.1" width="28.4" height="2.95" rx="0.6" fill="#4DBEEE"/>
<rect x="591.1" y="170.1" width="26.9" height="2.95" rx="0.6" fill="#4DBEEE"/>
<rect x="22.9" y="175.4" width="10.9" height="2.95" rx="0.6" fill="#77AC30"/>
<rect x="39.7" y="175.4" width="10.9" height="2.95" rx="0.6" fill="#77AC30"/>
<rect x="56.8" y="175.4" width="23.1" height="2.95" rx="0.6" fill="#77AC30"/>
<rect x="86" y="175.4" width="16.1" height="2.95" rx="0.6" fill="#77AC30"/>
<rect x="107.9" y="175.4" width="5.8" height="2.95" rx="0.6" fill="#77AC30"/>
<rect x="119.3" y="175.4" width="6.4" height="2.95" rx="0.6" fill="#77AC30"/>
<rect x="131.8" y="175.4" width="16.1" height="2.95" rx="0.6" fill="#77AC30"/>
<rect x="153.7" y="175.4" width="25.5" height="2.95" rx="0.6" fill="#77AC30"/>
<rect x="185.4" y="175.4" width="13.1" height="2.95" rx="0.6" fill="#77AC30"/>
<rect x="204.3" y="175.4" width="20.7" height="2.95" rx="0.6" fill="#77AC30"/>
<rect x="231.2" y="175.4" width="7.6" height="2.95" rx="0.6" fill="#77AC30"/>
<rect x="244.6" y="175.4" width="8.9" height="2.95" rx="0.6" fill="#77AC30"/>
<rect x="259.9" y="175.4" width="8" height="2.95" rx="0.6" fill="#77AC30"/>
<rect x="274.2" y="175.4" width="9.5" height="2.95" rx="0.6" fill="#77AC30"/>
<rect x="290" y="175.4" width="9.1" height="2.95" rx="0.6" fill="#77AC30"/>
<rect x="305.2" y="175.4" width="9.7" height="2.95" rx="0.6" fill="#77AC30"/>
<rect x="321.1" y="175.4" width="9.1" height="2.95" rx="0.6" fill="#77AC30"/>
<rect x="336.4" y="175.4" width="7.7" height="2.95" rx="0.6" fill="#77AC30"/>
<rect x="350.5" y="175.4" width="8" height="2.95" rx="0.6" fill="#77AC30"/>
<rect x="364.9" y="175.4" width="8" height="2.95" rx="0.6" fill="#77AC30"/>
<rect x="379.2" y="175.4" width="7.9" height="2.95" rx="0.6" fill="#77AC30"/>
<rect x="393.3" y="175.4" width="7.8" height="2.95" rx="0.6" fill="#77AC30"/>
<rect x="407.6" y="175.4" width="6.6" height="2.95" rx="0.6" fill="#77AC30"/>
<rect x="420.7" y="175.4" width="6.7" height="2.95" rx="0.6" fill="#77AC30"/>
<rect x="433.9" y="175.4" width="6" height="2.95" rx="0.6" fill="#77AC30"/>
<rect x="451.1" y="175.4" width="5.8" height="2.95" rx="0.6" fill="#77AC30"/>
<rect x="463.1" y="175.4" width="6.6" height="2.95" rx="0.6" fill="#77AC30"/>
<rect x="475.9" y="175.4" width="6.1" height="2.95" rx="0.6" fill="#77AC30"/>
<rect x="488.3" y="175.4" width="14.3" height="2.95" rx="0.6" fill="#77AC30"/>
<rect x="508.6" y="175.4" width="33.6" height="2.95" rx="0.6" fill="#77AC30"/>
<rect x="547.8" y="175.4" width="11.1" height="2.95" rx="0.6" fill="#77AC30"/>
<rect x="564.8" y="175.4" width="4.4" height="2.95" rx="0.6" fill="#77AC30"/>
<rect x="575" y="175.4" width="4.1" height="2.95" rx="0.6" fill="#77AC30"/>
<rect x="584.5" y="175.4" width="6.6" height="2.95" rx="0.6" fill="#77AC30"/>
<rect x="596.6" y="175.4" width="14.9" height="2.95" rx="0.6" fill="#77AC30"/>
<rect x="615.6" y="175.4" width="2.4" height="2.95" rx="0.6" fill="#77AC30"/>
<rect x="22.9" y="180.5" width="17.1" height="2.95" rx="0.6" fill="#7E2F8E"/>
<rect x="45.8" y="180.5" width="18" height="2.95" rx="0.6" fill="#7E2F8E"/>
<rect x="69.9" y="180.5" width="38.1" height="2.95" rx="0.6" fill="#7E2F8E"/>
<rect x="113.9" y="180.5" width="6.2" height="2.95" rx="0.6" fill="#7E2F8E"/>
<rect x="126.4" y="180.5" width="4.7" height="2.95" rx="0.6" fill="#7E2F8E"/>
<rect x="137.3" y="180.5" width="5.1" height="2.95" rx="0.6" fill="#7E2F8E"/>
<rect x="148.3" y="180.5" width="6.4" height="2.95" rx="0.6" fill="#7E2F8E"/>
<rect x="160.3" y="180.5" width="6.6" height="2.95" rx="0.6" fill="#7E2F8E"/>
<rect x="173.1" y="180.5" width="21.2" height="2.95" rx="0.6" fill="#7E2F8E"/>
<rect x="200.1" y="180.5" width="14.9" height="2.95" rx="0.6" fill="#7E2F8E"/>
<rect x="225.8" y="180.5" width="5" height="2.95" rx="0.6" fill="#7E2F8E"/>
<rect x="236.7" y="180.5" width="7.3" height="2.95" rx="0.6" fill="#7E2F8E"/>
<rect x="250.1" y="180.5" width="10.9" height="2.95" rx="0.6" fill="#7E2F8E"/>
<rect x="267.2" y="180.5" width="9.5" height="2.95" rx="0.6" fill="#7E2F8E"/>
<rect x="283" y="180.5" width="9.1" height="2.95" rx="0.6" fill="#7E2F8E"/>
<rect x="297.9" y="180.5" width="9.2" height="2.95" rx="0.6" fill="#7E2F8E"/>
<rect x="313.3" y="180.5" width="9.2" height="2.95" rx="0.6" fill="#7E2F8E"/>
<rect x="328.8" y="180.5" width="9.1" height="2.95" rx="0.6" fill="#7E2F8E"/>
<rect x="344.1" y="180.5" width="7.3" height="2.95" rx="0.6" fill="#7E2F8E"/>
<rect x="357.8" y="180.5" width="8.2" height="2.95" rx="0.6" fill="#7E2F8E"/>
<rect x="372.2" y="180.5" width="8" height="2.95" rx="0.6" fill="#7E2F8E"/>
<rect x="386.5" y="180.5" width="7.6" height="2.95" rx="0.6" fill="#7E2F8E"/>
<rect x="400.6" y="180.5" width="7" height="2.95" rx="0.6" fill="#7E2F8E"/>
<rect x="414.3" y="180.5" width="6.4" height="2.95" rx="0.6" fill="#7E2F8E"/>
<rect x="427.4" y="180.5" width="6.4" height="2.95" rx="0.6" fill="#7E2F8E"/>
<rect x="440.1" y="180.5" width="10.5" height="2.95" rx="0.6" fill="#7E2F8E"/>
<rect x="456.2" y="180.5" width="7.6" height="2.95" rx="0.6" fill="#7E2F8E"/>
<rect x="469.8" y="180.5" width="5.8" height="2.95" rx="0.6" fill="#7E2F8E"/>
<rect x="482" y="180.5" width="7" height="2.95" rx="0.6" fill="#7E2F8E"/>
<rect x="501.6" y="180.5" width="34.7" height="2.95" rx="0.6" fill="#7E2F8E"/>
<rect x="542.2" y="180.5" width="8.8" height="2.95" rx="0.6" fill="#7E2F8E"/>
<rect x="556.6" y="180.5" width="23.1" height="2.95" rx="0.6" fill="#7E2F8E"/>
<rect x="585.5" y="180.5" width="20.2" height="2.95" rx="0.6" fill="#7E2F8E"/>
<rect x="611.8" y="180.5" width="6.2" height="2.95" rx="0.6" fill="#7E2F8E"/>
<rect x="25.5" y="185.8" width="25.1" height="2.95" rx="0.6" fill="#EDB120"/>
<rect x="56.8" y="185.8" width="23.1" height="2.95" rx="0.6" fill="#EDB120"/>
<rect x="86" y="185.8" width="22" height="2.95" rx="0.6" fill="#EDB120"/>
<rect x="113.9" y="185.8" width="6.2" height="2.95" rx="0.6" fill="#EDB120"/>
<rect x="126.4" y="185.8" width="28.3" height="2.95" rx="0.6" fill="#EDB120"/>
<rect x="160.3" y="185.8" width="19" height="2.95" rx="0.6" fill="#EDB120"/>
<rect x="185.4" y="185.8" width="53.4" height="2.95" rx="0.6" fill="#EDB120"/>
<rect x="244.6" y="185.8" width="54.5" height="2.95" rx="0.6" fill="#EDB120"/>
<rect x="305.2" y="185.8" width="9.7" height="2.95" rx="0.6" fill="#EDB120"/>
<rect x="321.1" y="185.8" width="9.1" height="2.95" rx="0.6" fill="#EDB120"/>
<rect x="336.4" y="185.8" width="7.7" height="2.95" rx="0.6" fill="#EDB120"/>
<rect x="350.5" y="185.8" width="8" height="2.95" rx="0.6" fill="#EDB120"/>
<rect x="364.9" y="185.8" width="8" height="2.95" rx="0.6" fill="#EDB120"/>
<rect x="379.2" y="185.8" width="7.9" height="2.95" rx="0.6" fill="#EDB120"/>
<rect x="393.3" y="185.8" width="7.8" height="2.95" rx="0.6" fill="#EDB120"/>
<rect x="407.6" y="185.8" width="6.6" height="2.95" rx="0.6" fill="#EDB120"/>
<rect x="420.7" y="185.8" width="6.7" height="2.95" rx="0.6" fill="#EDB120"/>
<rect x="433.9" y="185.8" width="8.8" height="2.95" rx="0.6" fill="#EDB120"/>
<rect x="448.5" y="185.8" width="8.5" height="2.95" rx="0.6" fill="#EDB120"/>
<rect x="463.1" y="185.8" width="6.6" height="2.95" rx="0.6" fill="#EDB120"/>
<rect x="475.9" y="185.8" width="6.1" height="2.95" rx="0.6" fill="#EDB120"/>
<rect x="488.3" y="185.8" width="14.3" height="2.95" rx="0.6" fill="#EDB120"/>
<rect x="508.6" y="185.8" width="33.6" height="2.95" rx="0.6" fill="#EDB120"/>
<rect x="547.8" y="185.8" width="11.1" height="2.95" rx="0.6" fill="#EDB120"/>
<rect x="564.8" y="185.8" width="26.3" height="2.95" rx="0.6" fill="#EDB120"/>
<rect x="596.6" y="185.8" width="21.4" height="2.95" rx="0.6" fill="#EDB120"/>
<rect x="22.9" y="190.9" width="10.9" height="2.95" rx="0.6" fill="#D95319"/>
<rect x="45.8" y="190.9" width="18" height="2.95" rx="0.6" fill="#D95319"/>
<rect x="69.9" y="190.9" width="32.1" height="2.95" rx="0.6" fill="#D95319"/>
<rect x="107.9" y="190.9" width="5.8" height="2.95" rx="0.6" fill="#D95319"/>
<rect x="119.3" y="190.9" width="10.3" height="2.95" rx="0.6" fill="#D95319"/>
<rect x="135.9" y="190.9" width="11.2" height="2.95" rx="0.6" fill="#D95319"/>
<rect x="153" y="190.9" width="13.9" height="2.95" rx="0.6" fill="#D95319"/>
<rect x="173.1" y="190.9" width="21.2" height="2.95" rx="0.6" fill="#D95319"/>
<rect x="200.1" y="190.9" width="19.4" height="2.95" rx="0.6" fill="#D95319"/>
<rect x="225.8" y="190.9" width="5" height="2.95" rx="0.6" fill="#D95319"/>
<rect x="236.7" y="190.9" width="10.2" height="2.95" rx="0.6" fill="#D95319"/>
<rect x="253.1" y="190.9" width="8" height="2.95" rx="0.6" fill="#D95319"/>
<rect x="267.2" y="190.9" width="9.5" height="2.95" rx="0.6" fill="#D95319"/>
<rect x="283" y="190.9" width="9.1" height="2.95" rx="0.6" fill="#D95319"/>
<rect x="297.9" y="190.9" width="9.2" height="2.95" rx="0.6" fill="#D95319"/>
<rect x="313.3" y="190.9" width="9.2" height="2.95" rx="0.6" fill="#D95319"/>
<rect x="328.8" y="190.9" width="9.1" height="2.95" rx="0.6" fill="#D95319"/>
<rect x="344.1" y="190.9" width="7.3" height="2.95" rx="0.6" fill="#D95319"/>
<rect x="357.8" y="190.9" width="8.2" height="2.95" rx="0.6" fill="#D95319"/>
<rect x="372.2" y="190.9" width="8" height="2.95" rx="0.6" fill="#D95319"/>
<rect x="386.5" y="190.9" width="7.6" height="2.95" rx="0.6" fill="#D95319"/>
<rect x="400.6" y="190.9" width="7" height="2.95" rx="0.6" fill="#D95319"/>
<rect x="414.3" y="190.9" width="6.4" height="2.95" rx="0.6" fill="#D95319"/>
<rect x="427.4" y="190.9" width="6.4" height="2.95" rx="0.6" fill="#D95319"/>
<rect x="440.1" y="190.9" width="23.6" height="2.95" rx="0.6" fill="#D95319"/>
<rect x="469.8" y="190.9" width="5.8" height="2.95" rx="0.6" fill="#D95319"/>
<rect x="482" y="190.9" width="7" height="2.95" rx="0.6" fill="#D95319"/>
<rect x="495" y="190.9" width="41.3" height="2.95" rx="0.6" fill="#D95319"/>
<rect x="542.2" y="190.9" width="4.8" height="2.95" rx="0.6" fill="#D95319"/>
<rect x="558.7" y="190.9" width="10.3" height="2.95" rx="0.6" fill="#D95319"/>
<rect x="575" y="190.9" width="4.1" height="2.95" rx="0.6" fill="#D95319"/>
<rect x="591.1" y="190.9" width="20.2" height="2.95" rx="0.6" fill="#D95319"/>
<rect x="615.2" y="190.9" width="2.8" height="2.95" rx="0.6" fill="#D95319"/>
<rect x="25.5" y="195.8" width="25.1" height="2.95" rx="0.6" fill="#0072BD"/>
<rect x="56.8" y="195.8" width="23.1" height="2.95" rx="0.6" fill="#0072BD"/>
<rect x="86" y="195.8" width="22" height="2.95" rx="0.6" fill="#0072BD"/>
<rect x="113.9" y="195.8" width="10.6" height="2.95" rx="0.6" fill="#0072BD"/>
<rect x="130.8" y="195.8" width="23.9" height="2.95" rx="0.6" fill="#0072BD"/>
<rect x="160.3" y="195.8" width="19" height="2.95" rx="0.6" fill="#0072BD"/>
<rect x="185.4" y="195.8" width="13.1" height="2.95" rx="0.6" fill="#0072BD"/>
<rect x="204.3" y="195.8" width="10.7" height="2.95" rx="0.6" fill="#0072BD"/>
<rect x="220.2" y="195.8" width="4.8" height="2.95" rx="0.6" fill="#0072BD"/>
<rect x="231.2" y="195.8" width="7.6" height="2.95" rx="0.6" fill="#0072BD"/>
<rect x="244.6" y="195.8" width="8.9" height="2.95" rx="0.6" fill="#0072BD"/>
<rect x="259.9" y="195.8" width="8" height="2.95" rx="0.6" fill="#0072BD"/>
<rect x="274.2" y="195.8" width="9.5" height="2.95" rx="0.6" fill="#0072BD"/>
<rect x="290" y="195.8" width="9.1" height="2.95" rx="0.6" fill="#0072BD"/>
<rect x="305.2" y="195.8" width="9.7" height="2.95" rx="0.6" fill="#0072BD"/>
<rect x="321.1" y="195.8" width="9.1" height="2.95" rx="0.6" fill="#0072BD"/>
<rect x="336.4" y="195.8" width="7.7" height="2.95" rx="0.6" fill="#0072BD"/>
<rect x="350.5" y="195.8" width="8" height="2.95" rx="0.6" fill="#0072BD"/>
<rect x="364.9" y="195.8" width="8" height="2.95" rx="0.6" fill="#0072BD"/>
<rect x="379.2" y="195.8" width="7.9" height="2.95" rx="0.6" fill="#0072BD"/>
<rect x="393.3" y="195.8" width="7.8" height="2.95" rx="0.6" fill="#0072BD"/>
<rect x="407.6" y="195.8" width="6.6" height="2.95" rx="0.6" fill="#0072BD"/>
<rect x="420.7" y="195.8" width="6.7" height="2.95" rx="0.6" fill="#0072BD"/>
<rect x="433.9" y="195.8" width="8.8" height="2.95" rx="0.6" fill="#0072BD"/>
<rect x="448.5" y="195.8" width="8.5" height="2.95" rx="0.6" fill="#0072BD"/>
<rect x="463.1" y="195.8" width="6.6" height="2.95" rx="0.6" fill="#0072BD"/>
<rect x="475.9" y="195.8" width="6.1" height="2.95" rx="0.6" fill="#0072BD"/>
<rect x="488.3" y="195.8" width="7.4" height="2.95" rx="0.6" fill="#0072BD"/>
<rect x="504.9" y="195.8" width="8.8" height="2.95" rx="0.6" fill="#0072BD"/>
<rect x="524.2" y="195.8" width="18" height="2.95" rx="0.6" fill="#0072BD"/>
<rect x="547.8" y="195.8" width="11.1" height="2.95" rx="0.6" fill="#0072BD"/>
<rect x="569.6" y="195.8" width="10.1" height="2.95" rx="0.6" fill="#0072BD"/>
<rect x="585.5" y="195.8" width="5.6" height="2.95" rx="0.6" fill="#0072BD"/>
<rect x="596.6" y="195.8" width="9.1" height="2.95" rx="0.6" fill="#0072BD"/>
<rect x="611.8" y="195.8" width="6.2" height="2.95" rx="0.6" fill="#0072BD"/>
<rect x="634.2" y="134.4" width="49.2" height="57.8" fill="#fff" stroke="#7a7a7a" stroke-width="1"/>
<line x1="637.4000000000001" y1="144.8" x2="667.2" y2="144.8" stroke="#0072BD" stroke-width="1.1"/>
<line x1="637.4000000000001" y1="163.4" x2="667.2" y2="163.4" stroke="#0072BD" stroke-width="1.1" stroke-dasharray="6.6,5.4"/>
<line x1="637.4000000000001" y1="181.7" x2="667.2" y2="181.7" stroke="#E2683A" stroke-width="1.1"/>
<text x="669.7" y="146.3" font-size="10.6" font-style="italic" fill="#222">v</text>
<text x="674.5" y="152.5" font-size="9.8" font-style="italic" fill="#222">x</text>
<text x="669.7" y="164.9" font-size="10.6" font-style="italic" fill="#222">v</text>
<text x="674.5" y="171.1" font-size="9.8" font-style="italic" fill="#222">y</text>
<text x="669.7" y="183.2" font-size="10.6" font-style="italic" fill="#222">&#969;</text>
<text x="676.2" y="189.4" font-size="9.8" font-style="italic" fill="#222">z</text>
<line x1="127.6" y1="222.5" x2="127.6" y2="264.5" stroke="#e6e6e6" stroke-width="0.8"/>
<line x1="256.5" y1="222.5" x2="256.5" y2="264.5" stroke="#e6e6e6" stroke-width="0.8"/>
<line x1="385.3" y1="222.5" x2="385.3" y2="264.5" stroke="#e6e6e6" stroke-width="0.8"/>
<line x1="514.2" y1="222.5" x2="514.2" y2="264.5" stroke="#e6e6e6" stroke-width="0.8"/>
<line x1="24.5" y1="222.5" x2="616.9" y2="222.5" stroke="#8a8a8a" stroke-width="0.9"/>
<line x1="24.5" y1="264.5" x2="616.9" y2="264.5" stroke="#8a8a8a" stroke-width="0.9"/>
<line x1="127.6" y1="222.5" x2="127.6" y2="227.5" stroke="#444" stroke-width="0.9"/>
<line x1="127.6" y1="264.5" x2="127.6" y2="259.5" stroke="#444" stroke-width="0.9"/>
<text transform="translate(127.9,280.1) scale(1,1.16)" font-size="11.6" text-anchor="middle" fill="#222" stroke="#222" stroke-width="0.12">50</text>
<line x1="256.5" y1="222.5" x2="256.5" y2="227.5" stroke="#444" stroke-width="0.9"/>
<line x1="256.5" y1="264.5" x2="256.5" y2="259.5" stroke="#444" stroke-width="0.9"/>
<text transform="translate(256.8,280.1) scale(1,1.16)" font-size="11.6" text-anchor="middle" fill="#222" stroke="#222" stroke-width="0.12">55</text>
<line x1="385.3" y1="222.5" x2="385.3" y2="227.5" stroke="#444" stroke-width="0.9"/>
<line x1="385.3" y1="264.5" x2="385.3" y2="259.5" stroke="#444" stroke-width="0.9"/>
<text transform="translate(385.6,280.1) scale(1,1.16)" font-size="11.6" text-anchor="middle" fill="#222" stroke="#222" stroke-width="0.12">60</text>
<line x1="514.2" y1="222.5" x2="514.2" y2="227.5" stroke="#444" stroke-width="0.9"/>
<line x1="514.2" y1="264.5" x2="514.2" y2="259.5" stroke="#444" stroke-width="0.9"/>
<text transform="translate(514.5,280.1) scale(1,1.16)" font-size="11.6" text-anchor="middle" fill="#222" stroke="#222" stroke-width="0.12">65</text>
<line x1="24.5" y1="222.5" x2="24.5" y2="264.5" stroke="#5A9FD9" stroke-width="1"/>
<line x1="24.5" y1="222.5" x2="30.5" y2="222.5" stroke="#5A9FD9" stroke-width="1"/>
<text transform="translate(19.2,226.6) scale(1,1.12)" font-size="11" text-anchor="end" fill="#0072BD" stroke="#0072BD" stroke-width="0.12">1</text>
<line x1="24.5" y1="243.5" x2="30.5" y2="243.5" stroke="#5A9FD9" stroke-width="1"/>
<text transform="translate(19.2,247.6) scale(1,1.12)" font-size="11" text-anchor="end" fill="#0072BD" stroke="#0072BD" stroke-width="0.12">0</text>
<line x1="24.5" y1="264.5" x2="30.5" y2="264.5" stroke="#5A9FD9" stroke-width="1"/>
<text transform="translate(19.2,268.6) scale(1,1.12)" font-size="11" text-anchor="end" fill="#0072BD" stroke="#0072BD" stroke-width="0.12">-1</text>
<line x1="616.9" y1="222.5" x2="616.9" y2="264.5" stroke="#EC9C78" stroke-width="1"/>
<line x1="610.9" y1="226.2" x2="616.9" y2="226.2" stroke="#EC9C78" stroke-width="1"/>
<text transform="translate(621.9,230.3) scale(1,1.12)" font-size="11" fill="#D95319" stroke="#D95319" stroke-width="0.12">1</text>
<line x1="610.9" y1="243.5" x2="616.9" y2="243.5" stroke="#EC9C78" stroke-width="1"/>
<text transform="translate(621.9,247.6) scale(1,1.12)" font-size="11" fill="#D95319" stroke="#D95319" stroke-width="0.12">0</text>
<line x1="610.9" y1="261.3" x2="616.9" y2="261.3" stroke="#EC9C78" stroke-width="1"/>
<text transform="translate(621.9,265.4) scale(1,1.12)" font-size="11" fill="#D95319" stroke="#D95319" stroke-width="0.12">-1</text>
<polyline points="24,243.5 95,243.5 103.8,242.6 112.5,243.5 122,243.8 134.6,243.8 149.2,242.4 156.5,240.6 163.8,238.7 171.1,237.2 178.4,235.8 185.7,235.4 193,235.1 200.3,235.4 207.6,235.4 214.9,235.1 227.3,235.1 234.6,235.4 241.9,234.8 249.2,234.8 256.5,235.8 263.8,237.2 271.1,238.7 278.4,240.6 285.7,242.6 293,243.5 307.6,243.5 320,243.6 340,243.1 380,243.2 616,243.4" fill="none" stroke="#1F78C4" stroke-width="1.3" stroke-dasharray="7.6,4.4" stroke-linejoin="round"/>
<polyline points="24,246.3 29.3,245.3 36.6,244.5 42.4,245 48.3,246.3 54.1,245.6 60,245.6 65.8,248.2 73.1,250.8 80.4,253.3 84.8,254 90.6,255.8 95,257.7 97.9,257.2 102.3,254 106.7,253.3 112.5,249.7 118.4,248.9 120,247.5 124.4,245 128.8,243.8 134.6,243.8 141.9,243.1 149.2,243.1 156.5,242.6 163.8,242.6 171.1,243.5 178.4,243.1 185.7,242.6 193,243.5 200.3,243.5 207.6,242.6 214.9,244.1 220,243.1 234.6,243.5 249.2,243.5 263.8,243.5 278.4,243.5 293,243.1 300.3,242.6 304.7,243.8 310.5,243.8 314.9,245 320,247.5 324.4,250 331.7,251.4 339,254.8 346.3,257.7 349.2,257.2 352.8,260.2 356.5,257.7 363.8,256.2 371.1,254 378.4,251.4 384.2,248.2 390.1,246.4 397.4,244.1 404.7,243.8 412,243.1 420,240.6 425.8,239.7 431.7,239.4 437.5,240.2 444.8,240.6 452.1,242.4 458,242.6 463.8,243.1 471.1,242.6 478.4,239.4 485.7,237.7 493,235.8 499.6,233.3 507.6,236.2 512,236.5 516.4,234.3 518,233.6 523.8,231.4 529.7,229.5 535.5,230.7 541.4,232.9 547.2,235.4 554.5,238 561.8,240.6 566.2,242.4 573.5,243.5 583.7,243.5 598.3,243.5 616,243.5" fill="none" stroke="#1F78C4" stroke-width="1.3" stroke-linejoin="round"/>
<polyline points="24,243.5 36.6,243.1 51.2,243.5 65.8,243.5 73.1,242.4 78.9,244.5 83.3,242.4 87.7,243.1 93.5,244.5 97.9,241.6 102.3,245.3 108.1,249.7 112.5,252.6 116.9,253.7 120,257.2 124.4,259.1 127.3,261.3 131.7,259.6 134.6,261.6 139,260.2 143.4,261.6 149.2,256.7 153.6,255.2 158,251.8 163.8,247.5 169.6,244.1 175.5,244.5 181.3,242.4 185.7,243.8 190.1,242.6 194.5,246 198.8,243.8 204.7,242.4 210.5,246 214.9,243.5 220,243.5 227.3,243.1 234.6,243.1 237.5,244.5 241.9,243.1 249.2,243.8 256.5,243.1 260.9,245.3 263.8,246 268.2,249.7 272.6,253.3 276.9,254 281.3,258.4 285.7,259.1 288.6,261.3 293,260.6 295.9,261.3 299.6,258.4 303.2,262.5 307.6,257.7 311.2,255.8 313.4,258.1 317.1,252.6 320,251.8 324.4,248.2 328.8,245.3 333.1,243.1 340.4,241.6 346.3,243.5 352.1,242.4 356.5,243.8 360.9,242.6 366.7,243.8 372.6,242.6 378.4,243.1 382.8,244.1 390.1,243.1 398.8,242.6 407.6,243.5 420,243.1 426,243.9 432,242.9 440,243.8 448,243.2 456,244 464,243.2 472,243.9 480,243.2 488,244.1 496,243.1 504,244 512,243.2 518,243.5 525.3,243.1 529.7,244.1 535.5,243.1 539.9,245 547.2,249.7 553,253.3 557.4,257.2 561.8,258.7 564.7,262.1 569.1,259.1 573.5,261.6 577.9,260.2 580.8,262.1 586.6,257 589.5,257.7 593.9,253.3 601.2,249.7 605.6,246.7 610,243.1 614.3,244.1 616,243.5" fill="none" stroke="#DD6330" stroke-width="1.3" stroke-linejoin="round"/>
<text transform="translate(5.4,281.6) scale(1,1.08)" font-size="11" fill="#1BA1E2" stroke="#1BA1E2" stroke-width="0.15">MR</text>
<text transform="translate(5.4,291.4) scale(1,1.08)" font-size="11" fill="#1E9C4C" stroke="#1E9C4C" stroke-width="0.15">FR</text>
<text transform="translate(5.4,301.8) scale(1,1.08)" font-size="11" fill="#6B2FA0" stroke="#6B2FA0" stroke-width="0.15">FL</text>
<text transform="translate(5.4,311.6) scale(1,1.08)" font-size="11" fill="#F4B400" stroke="#F4B400" stroke-width="0.15">ML</text>
<text transform="translate(5.4,322.6) scale(1,1.08)" font-size="11" fill="#C83A2E" stroke="#C83A2E" stroke-width="0.15">BL</text>
<text transform="translate(5.4,333.4) scale(1,1.08)" font-size="11" fill="#1E70C0" stroke="#1E70C0" stroke-width="0.15">BR</text>
<rect x="29.1" y="284.5" width="34.5" height="3.3" rx="0.6" fill="#4DBEEE"/>
<rect x="68.9" y="284.5" width="7" height="3.3" rx="0.6" fill="#4DBEEE"/>
<rect x="82" y="284.5" width="8.8" height="3.3" rx="0.6" fill="#4DBEEE"/>
<rect x="96.6" y="284.5" width="10.9" height="3.3" rx="0.6" fill="#4DBEEE"/>
<rect x="113.4" y="284.5" width="14" height="3.3" rx="0.6" fill="#4DBEEE"/>
<rect x="133.2" y="284.5" width="12.8" height="3.3" rx="0.6" fill="#4DBEEE"/>
<rect x="151.8" y="284.5" width="7.4" height="3.3" rx="0.6" fill="#4DBEEE"/>
<rect x="164.9" y="284.5" width="11.1" height="3.3" rx="0.6" fill="#4DBEEE"/>
<rect x="181.9" y="284.5" width="12.4" height="3.3" rx="0.6" fill="#4DBEEE"/>
<rect x="200.1" y="284.5" width="20.1" height="3.3" rx="0.6" fill="#4DBEEE"/>
<rect x="226.1" y="284.5" width="15.6" height="3.3" rx="0.6" fill="#4DBEEE"/>
<rect x="247.2" y="284.5" width="17.8" height="3.3" rx="0.6" fill="#4DBEEE"/>
<rect x="270.6" y="284.5" width="25.3" height="3.3" rx="0.6" fill="#4DBEEE"/>
<rect x="301.7" y="284.5" width="17.2" height="3.3" rx="0.6" fill="#4DBEEE"/>
<rect x="324.4" y="284.5" width="13.4" height="3.3" rx="0.6" fill="#4DBEEE"/>
<rect x="344.1" y="284.5" width="8.8" height="3.3" rx="0.6" fill="#4DBEEE"/>
<rect x="359.3" y="284.5" width="8.5" height="3.3" rx="0.6" fill="#4DBEEE"/>
<rect x="373.3" y="284.5" width="10.1" height="3.3" rx="0.6" fill="#4DBEEE"/>
<rect x="388.9" y="284.5" width="21.6" height="3.3" rx="0.6" fill="#4DBEEE"/>
<rect x="415.8" y="284.5" width="7.2" height="3.3" rx="0.6" fill="#4DBEEE"/>
<rect x="428.5" y="284.5" width="19.4" height="3.3" rx="0.6" fill="#4DBEEE"/>
<rect x="453.3" y="284.5" width="28.5" height="3.3" rx="0.6" fill="#4DBEEE"/>
<rect x="487.6" y="284.5" width="8.5" height="3.3" rx="0.6" fill="#4DBEEE"/>
<rect x="501.6" y="284.5" width="7.6" height="3.3" rx="0.6" fill="#4DBEEE"/>
<rect x="514.7" y="284.5" width="6.9" height="3.3" rx="0.6" fill="#4DBEEE"/>
<rect x="527.4" y="284.5" width="7.3" height="3.3" rx="0.6" fill="#4DBEEE"/>
<rect x="540" y="284.5" width="26.1" height="3.3" rx="0.6" fill="#4DBEEE"/>
<rect x="571.2" y="284.5" width="12.8" height="3.3" rx="0.6" fill="#4DBEEE"/>
<rect x="589.2" y="284.5" width="28.6" height="3.3" rx="0.6" fill="#4DBEEE"/>
<rect x="23.6" y="290.2" width="35.5" height="3.3" rx="0.6" fill="#77AC30"/>
<rect x="65" y="290.2" width="8.3" height="3.3" rx="0.6" fill="#77AC30"/>
<rect x="79.1" y="290.2" width="4.7" height="3.3" rx="0.6" fill="#77AC30"/>
<rect x="96.6" y="290.2" width="5.4" height="3.3" rx="0.6" fill="#77AC30"/>
<rect x="107.3" y="290.2" width="12.8" height="3.3" rx="0.6" fill="#77AC30"/>
<rect x="125.9" y="290.2" width="10.9" height="3.3" rx="0.6" fill="#77AC30"/>
<rect x="142.7" y="290.2" width="33.3" height="3.3" rx="0.6" fill="#77AC30"/>
<rect x="181.9" y="290.2" width="5.1" height="3.3" rx="0.6" fill="#77AC30"/>
<rect x="192.7" y="290.2" width="5.3" height="3.3" rx="0.6" fill="#77AC30"/>
<rect x="215.8" y="290.2" width="15.6" height="3.3" rx="0.6" fill="#77AC30"/>
<rect x="237" y="290.2" width="15.8" height="3.3" rx="0.6" fill="#77AC30"/>
<rect x="258.2" y="290.2" width="24.8" height="3.3" rx="0.6" fill="#77AC30"/>
<rect x="288.8" y="290.2" width="17.5" height="3.3" rx="0.6" fill="#77AC30"/>
<rect x="311.6" y="290.2" width="12.8" height="3.3" rx="0.6" fill="#77AC30"/>
<rect x="337.4" y="290.2" width="8.2" height="3.3" rx="0.6" fill="#77AC30"/>
<rect x="351.7" y="290.2" width="8" height="3.3" rx="0.6" fill="#77AC30"/>
<rect x="365.6" y="290.2" width="9.2" height="3.3" rx="0.6" fill="#77AC30"/>
<rect x="380.2" y="290.2" width="41" height="3.3" rx="0.6" fill="#77AC30"/>
<rect x="426.6" y="290.2" width="5.3" height="3.3" rx="0.6" fill="#77AC30"/>
<rect x="436.9" y="290.2" width="5.4" height="3.3" rx="0.6" fill="#77AC30"/>
<rect x="447.9" y="290.2" width="28.8" height="3.3" rx="0.6" fill="#77AC30"/>
<rect x="482" y="290.2" width="7.7" height="3.3" rx="0.6" fill="#77AC30"/>
<rect x="495.6" y="290.2" width="5.9" height="3.3" rx="0.6" fill="#77AC30"/>
<rect x="507.4" y="290.2" width="7.7" height="3.3" rx="0.6" fill="#77AC30"/>
<rect x="521" y="290.2" width="7.3" height="3.3" rx="0.6" fill="#77AC30"/>
<rect x="534.1" y="290.2" width="7.6" height="3.3" rx="0.6" fill="#77AC30"/>
<rect x="547" y="290.2" width="10" height="3.3" rx="0.6" fill="#77AC30"/>
<rect x="562.9" y="290.2" width="11.9" height="3.3" rx="0.6" fill="#77AC30"/>
<rect x="580.1" y="290.2" width="18" height="3.3" rx="0.6" fill="#77AC30"/>
<rect x="603.5" y="290.2" width="6.3" height="3.3" rx="0.6" fill="#77AC30"/>
<rect x="615.2" y="290.2" width="2.6" height="3.3" rx="0.6" fill="#77AC30"/>
<rect x="23.6" y="296.2" width="10.7" height="3.3" rx="0.6" fill="#7E2F8E"/>
<rect x="39.4" y="296.2" width="9.5" height="3.3" rx="0.6" fill="#7E2F8E"/>
<rect x="59.4" y="296.2" width="7.6" height="3.3" rx="0.6" fill="#7E2F8E"/>
<rect x="72.8" y="296.2" width="9.2" height="3.3" rx="0.6" fill="#7E2F8E"/>
<rect x="88.3" y="296.2" width="8.3" height="3.3" rx="0.6" fill="#7E2F8E"/>
<rect x="102.8" y="296.2" width="10.7" height="3.3" rx="0.6" fill="#7E2F8E"/>
<rect x="119" y="296.2" width="8.4" height="3.3" rx="0.6" fill="#7E2F8E"/>
<rect x="133.2" y="296.2" width="12.8" height="3.3" rx="0.6" fill="#7E2F8E"/>
<rect x="151.8" y="296.2" width="7.4" height="3.3" rx="0.6" fill="#7E2F8E"/>
<rect x="164.9" y="296.2" width="3.8" height="3.3" rx="0.6" fill="#7E2F8E"/>
<rect x="174.6" y="296.2" width="12.4" height="3.3" rx="0.6" fill="#7E2F8E"/>
<rect x="192.7" y="296.2" width="10.4" height="3.3" rx="0.6" fill="#7E2F8E"/>
<rect x="208.7" y="296.2" width="11.5" height="3.3" rx="0.6" fill="#7E2F8E"/>
<rect x="226.1" y="296.2" width="15.6" height="3.3" rx="0.6" fill="#7E2F8E"/>
<rect x="247.2" y="296.2" width="17.8" height="3.3" rx="0.6" fill="#7E2F8E"/>
<rect x="270.6" y="296.2" width="2.9" height="3.3" rx="0.6" fill="#7E2F8E"/>
<rect x="278.9" y="296.2" width="16.9" height="3.3" rx="0.6" fill="#7E2F8E"/>
<rect x="301.7" y="296.2" width="11.6" height="3.3" rx="0.6" fill="#7E2F8E"/>
<rect x="324.4" y="296.2" width="6.6" height="3.3" rx="0.6" fill="#7E2F8E"/>
<rect x="336.8" y="296.2" width="2" height="3.3" rx="0.6" fill="#7E2F8E"/>
<rect x="345.1" y="296.2" width="7.7" height="3.3" rx="0.6" fill="#7E2F8E"/>
<rect x="359.3" y="296.2" width="2.3" height="3.3" rx="0.6" fill="#7E2F8E"/>
<rect x="374.8" y="296.2" width="18.5" height="3.3" rx="0.6" fill="#7E2F8E"/>
<rect x="398.7" y="296.2" width="17" height="3.3" rx="0.6" fill="#7E2F8E"/>
<rect x="421.2" y="296.2" width="5.4" height="3.3" rx="0.6" fill="#7E2F8E"/>
<rect x="431.8" y="296.2" width="5.1" height="3.3" rx="0.6" fill="#7E2F8E"/>
<rect x="442.3" y="296.2" width="5.5" height="3.3" rx="0.6" fill="#7E2F8E"/>
<rect x="453.3" y="296.2" width="3.6" height="3.3" rx="0.6" fill="#7E2F8E"/>
<rect x="462.5" y="296.2" width="8.8" height="3.3" rx="0.6" fill="#7E2F8E"/>
<rect x="476.6" y="296.2" width="5.4" height="3.3" rx="0.6" fill="#7E2F8E"/>
<rect x="487.6" y="296.2" width="8.5" height="3.3" rx="0.6" fill="#7E2F8E"/>
<rect x="501.6" y="296.2" width="6.3" height="3.3" rx="0.6" fill="#7E2F8E"/>
<rect x="513.2" y="296.2" width="8.3" height="3.3" rx="0.6" fill="#7E2F8E"/>
<rect x="527.4" y="296.2" width="7.3" height="3.3" rx="0.6" fill="#7E2F8E"/>
<rect x="540" y="296.2" width="9" height="3.3" rx="0.6" fill="#7E2F8E"/>
<rect x="554.3" y="296.2" width="11.8" height="3.3" rx="0.6" fill="#7E2F8E"/>
<rect x="571.2" y="296.2" width="12.8" height="3.3" rx="0.6" fill="#7E2F8E"/>
<rect x="589.2" y="296.2" width="15.1" height="3.3" rx="0.6" fill="#7E2F8E"/>
<rect x="609.8" y="296.2" width="8" height="3.3" rx="0.6" fill="#7E2F8E"/>
<rect x="29.1" y="301.9" width="34.5" height="3.3" rx="0.6" fill="#EDB120"/>
<rect x="68.9" y="301.9" width="7" height="3.3" rx="0.6" fill="#EDB120"/>
<rect x="82" y="301.9" width="8.8" height="3.3" rx="0.6" fill="#EDB120"/>
<rect x="96.6" y="301.9" width="10.9" height="3.3" rx="0.6" fill="#EDB120"/>
<rect x="113.4" y="301.9" width="6.7" height="3.3" rx="0.6" fill="#EDB120"/>
<rect x="125.9" y="301.9" width="10.9" height="3.3" rx="0.6" fill="#EDB120"/>
<rect x="142.7" y="301.9" width="16.5" height="3.3" rx="0.6" fill="#EDB120"/>
<rect x="164.9" y="301.9" width="11.1" height="3.3" rx="0.6" fill="#EDB120"/>
<rect x="181.9" y="301.9" width="12.4" height="3.3" rx="0.6" fill="#EDB120"/>
<rect x="200.1" y="301.9" width="8.8" height="3.3" rx="0.6" fill="#EDB120"/>
<rect x="214.7" y="301.9" width="16.8" height="3.3" rx="0.6" fill="#EDB120"/>
<rect x="237" y="301.9" width="15.8" height="3.3" rx="0.6" fill="#EDB120"/>
<rect x="258.2" y="301.9" width="15.3" height="3.3" rx="0.6" fill="#EDB120"/>
<rect x="278.9" y="301.9" width="16.9" height="3.3" rx="0.6" fill="#EDB120"/>
<rect x="301.7" y="301.9" width="22.7" height="3.3" rx="0.6" fill="#EDB120"/>
<rect x="330.5" y="301.9" width="7.3" height="3.3" rx="0.6" fill="#EDB120"/>
<rect x="344.1" y="301.9" width="8.8" height="3.3" rx="0.6" fill="#EDB120"/>
<rect x="359.3" y="301.9" width="8.5" height="3.3" rx="0.6" fill="#EDB120"/>
<rect x="373.3" y="301.9" width="10.1" height="3.3" rx="0.6" fill="#EDB120"/>
<rect x="388.9" y="301.9" width="21.6" height="3.3" rx="0.6" fill="#EDB120"/>
<rect x="415.8" y="301.9" width="5.4" height="3.3" rx="0.6" fill="#EDB120"/>
<rect x="426.6" y="301.9" width="15.8" height="3.3" rx="0.6" fill="#EDB120"/>
<rect x="447.9" y="301.9" width="33.9" height="3.3" rx="0.6" fill="#EDB120"/>
<rect x="487.6" y="301.9" width="9.6" height="3.3" rx="0.6" fill="#EDB120"/>
<rect x="503" y="301.9" width="12.1" height="3.3" rx="0.6" fill="#EDB120"/>
<rect x="521" y="301.9" width="7.3" height="3.3" rx="0.6" fill="#EDB120"/>
<rect x="534.1" y="301.9" width="7.6" height="3.3" rx="0.6" fill="#EDB120"/>
<rect x="547" y="301.9" width="10" height="3.3" rx="0.6" fill="#EDB120"/>
<rect x="562.9" y="301.9" width="11.9" height="3.3" rx="0.6" fill="#EDB120"/>
<rect x="580.1" y="301.9" width="18" height="3.3" rx="0.6" fill="#EDB120"/>
<rect x="603.5" y="301.9" width="14.3" height="3.3" rx="0.6" fill="#EDB120"/>
<rect x="23.6" y="307.6" width="35.5" height="3.3" rx="0.6" fill="#D95319"/>
<rect x="65" y="307.6" width="4.7" height="3.3" rx="0.6" fill="#D95319"/>
<rect x="81.6" y="307.6" width="2.3" height="3.3" rx="0.6" fill="#D95319"/>
<rect x="102.8" y="307.6" width="10.7" height="3.3" rx="0.6" fill="#D95319"/>
<rect x="119" y="307.6" width="8.4" height="3.3" rx="0.6" fill="#D95319"/>
<rect x="133.2" y="307.6" width="12.8" height="3.3" rx="0.6" fill="#D95319"/>
<rect x="151.8" y="307.6" width="16.9" height="3.3" rx="0.6" fill="#D95319"/>
<rect x="181.9" y="307.6" width="5.1" height="3.3" rx="0.6" fill="#D95319"/>
<rect x="192.4" y="307.6" width="1.9" height="3.3" rx="0.6" fill="#D95319"/>
<rect x="200.1" y="307.6" width="2.9" height="3.3" rx="0.6" fill="#D95319"/>
<rect x="208.7" y="307.6" width="11.5" height="3.3" rx="0.6" fill="#D95319"/>
<rect x="226.1" y="307.6" width="15.6" height="3.3" rx="0.6" fill="#D95319"/>
<rect x="247.2" y="307.6" width="17.8" height="3.3" rx="0.6" fill="#D95319"/>
<rect x="270.6" y="307.6" width="12.4" height="3.3" rx="0.6" fill="#D95319"/>
<rect x="288.8" y="307.6" width="17.5" height="3.3" rx="0.6" fill="#D95319"/>
<rect x="311.6" y="307.6" width="7.6" height="3.3" rx="0.6" fill="#D95319"/>
<rect x="324.4" y="307.6" width="6.6" height="3.3" rx="0.6" fill="#D95319"/>
<rect x="336.8" y="307.6" width="8.8" height="3.3" rx="0.6" fill="#D95319"/>
<rect x="351.7" y="307.6" width="8" height="3.3" rx="0.6" fill="#D95319"/>
<rect x="365.6" y="307.6" width="9.2" height="3.3" rx="0.6" fill="#D95319"/>
<rect x="380.2" y="307.6" width="42.9" height="3.3" rx="0.6" fill="#D95319"/>
<rect x="428.8" y="307.6" width="19.1" height="3.3" rx="0.6" fill="#D95319"/>
<rect x="453.3" y="307.6" width="23.4" height="3.3" rx="0.6" fill="#D95319"/>
<rect x="482" y="307.6" width="9.2" height="3.3" rx="0.6" fill="#D95319"/>
<rect x="497.1" y="307.6" width="7.8" height="3.3" rx="0.6" fill="#D95319"/>
<rect x="510.3" y="307.6" width="11.2" height="3.3" rx="0.6" fill="#D95319"/>
<rect x="527.4" y="307.6" width="7.3" height="3.3" rx="0.6" fill="#D95319"/>
<rect x="540" y="307.6" width="9" height="3.3" rx="0.6" fill="#D95319"/>
<rect x="554.3" y="307.6" width="11.8" height="3.3" rx="0.6" fill="#D95319"/>
<rect x="571.2" y="307.6" width="12.8" height="3.3" rx="0.6" fill="#D95319"/>
<rect x="589.2" y="307.6" width="20.6" height="3.3" rx="0.6" fill="#D95319"/>
<rect x="615.2" y="307.6" width="2.6" height="3.3" rx="0.6" fill="#D95319"/>
<rect x="23.6" y="313.2" width="10.7" height="3.3" rx="0.6" fill="#0072BD"/>
<rect x="39.4" y="313.2" width="9.5" height="3.3" rx="0.6" fill="#0072BD"/>
<rect x="59.4" y="313.2" width="7.6" height="3.3" rx="0.6" fill="#0072BD"/>
<rect x="72.8" y="313.2" width="9.2" height="3.3" rx="0.6" fill="#0072BD"/>
<rect x="88.3" y="313.2" width="8.3" height="3.3" rx="0.6" fill="#0072BD"/>
<rect x="108.8" y="313.2" width="4.7" height="3.3" rx="0.6" fill="#0072BD"/>
<rect x="125.9" y="313.2" width="10.9" height="3.3" rx="0.6" fill="#0072BD"/>
<rect x="142.7" y="313.2" width="16.5" height="3.3" rx="0.6" fill="#0072BD"/>
<rect x="164.9" y="313.2" width="22" height="3.3" rx="0.6" fill="#0072BD"/>
<rect x="192.7" y="313.2" width="10.4" height="3.3" rx="0.6" fill="#0072BD"/>
<rect x="214.3" y="313.2" width="17.2" height="3.3" rx="0.6" fill="#0072BD"/>
<rect x="237" y="313.2" width="15.8" height="3.3" rx="0.6" fill="#0072BD"/>
<rect x="258.2" y="313.2" width="15.3" height="3.3" rx="0.6" fill="#0072BD"/>
<rect x="278.9" y="313.2" width="16.9" height="3.3" rx="0.6" fill="#0072BD"/>
<rect x="301.7" y="313.2" width="11.6" height="3.3" rx="0.6" fill="#0072BD"/>
<rect x="318.9" y="313.2" width="5.5" height="3.3" rx="0.6" fill="#0072BD"/>
<rect x="330.1" y="313.2" width="16.5" height="3.3" rx="0.6" fill="#0072BD"/>
<rect x="353.9" y="313.2" width="5.8" height="3.3" rx="0.6" fill="#0072BD"/>
<rect x="365.6" y="313.2" width="3.2" height="3.3" rx="0.6" fill="#0072BD"/>
<rect x="380.2" y="313.2" width="13.1" height="3.3" rx="0.6" fill="#0072BD"/>
<rect x="398.7" y="313.2" width="17" height="3.3" rx="0.6" fill="#0072BD"/>
<rect x="421.2" y="313.2" width="7.3" height="3.3" rx="0.6" fill="#0072BD"/>
<rect x="433.9" y="313.2" width="23.1" height="3.3" rx="0.6" fill="#0072BD"/>
<rect x="462.5" y="313.2" width="8.8" height="3.3" rx="0.6" fill="#0072BD"/>
<rect x="476.6" y="313.2" width="9.2" height="3.3" rx="0.6" fill="#0072BD"/>
<rect x="491.2" y="313.2" width="8.8" height="3.3" rx="0.6" fill="#0072BD"/>
<rect x="504.9" y="313.2" width="10.2" height="3.3" rx="0.6" fill="#0072BD"/>
<rect x="521" y="313.2" width="7.3" height="3.3" rx="0.6" fill="#0072BD"/>
<rect x="534.1" y="313.2" width="7.6" height="3.3" rx="0.6" fill="#0072BD"/>
<rect x="547" y="313.2" width="10" height="3.3" rx="0.6" fill="#0072BD"/>
<rect x="562.9" y="313.2" width="11.9" height="3.3" rx="0.6" fill="#0072BD"/>
<rect x="580.1" y="313.2" width="18" height="3.3" rx="0.6" fill="#0072BD"/>
<rect x="609.8" y="313.2" width="8" height="3.3" rx="0.6" fill="#0072BD"/>
<rect x="634.2" y="246.8" width="49.2" height="57.5" fill="#fff" stroke="#7a7a7a" stroke-width="1"/>
<line x1="637.4000000000001" y1="257.2" x2="667.2" y2="257.2" stroke="#0072BD" stroke-width="1.1"/>
<line x1="637.4000000000001" y1="275.8" x2="667.2" y2="275.8" stroke="#0072BD" stroke-width="1.1" stroke-dasharray="6.6,5.4"/>
<line x1="637.4000000000001" y1="294.1" x2="667.2" y2="294.1" stroke="#E2683A" stroke-width="1.1"/>
<text x="669.7" y="258.7" font-size="10.6" font-style="italic" fill="#222">v</text>
<text x="674.5" y="264.9" font-size="9.8" font-style="italic" fill="#222">x</text>
<text x="669.7" y="277.3" font-size="10.6" font-style="italic" fill="#222">v</text>
<text x="674.5" y="283.5" font-size="9.8" font-style="italic" fill="#222">y</text>
<text x="669.7" y="295.6" font-size="10.6" font-style="italic" fill="#222">&#969;</text>
<text x="676.2" y="301.8" font-size="9.8" font-style="italic" fill="#222">z</text>
</svg></body></html>
